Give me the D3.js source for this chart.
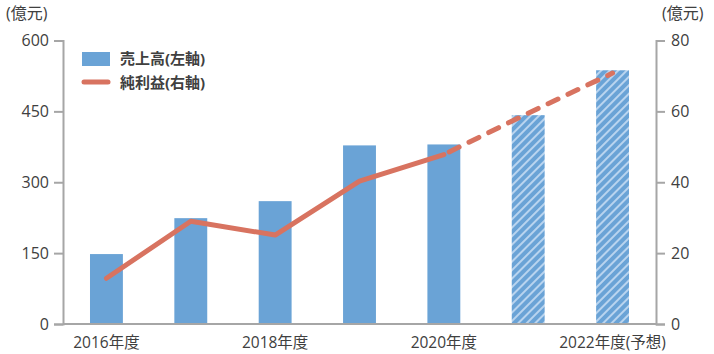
<!DOCTYPE html>
<html>
<head>
<meta charset="utf-8">
<script src="https://cdn.jsdelivr.net/npm/d3@7"></script>
<style>
  body { margin: 0; background: #fff; }
  text { font-family: "Open Sans", "Noto Sans CJK JP", sans-serif; fill: #404040; }
</style>
</head>
<body>
<div id="chart"></div>
<script>
// data
const years = ["2016", "2017", "2018", "2019", "2020", "2021", "2022"];
const sales = [148, 224, 260, 378, 380, 442, 537];      // 売上高 (left axis)
const profit = [12.9, 29, 25.1, 40.3, 47.8, 59.5, 70.8]; // 純利益 (right axis)
const forecast = [false, false, false, false, false, true, true];
const xLabels = {"2016": "2016年度", "2018": "2018年度", "2020": "2020年度", "2022": "2022年度(予想)"};
const leftTicks = [0, 150, 300, 450, 600];
const rightTicks = [0, 20, 40, 60, 80];

const width = 714, height = 354;
const margin = { top: 40.5, right: 58, bottom: 30, left: 63 };
const barColor = "#6aa3d6";
const lineColor = "#d87360";
const axisColor = "#a6a6a6";

const svg = d3.select("#chart").append("svg")
    .attr("width", width)
    .attr("height", height);

// hatch pattern for forecast bars
const defs = svg.append("defs");
const pat = defs.append("pattern")
    .attr("id", "hatch")
    .attr("patternUnits", "userSpaceOnUse")
    .attr("width", 6)
    .attr("height", 6)
    .attr("patternTransform", "rotate(45)");
pat.append("rect").attr("width", 6).attr("height", 6).attr("fill", barColor);
pat.append("rect").attr("x", 0).attr("width", 2).attr("height", 6).attr("fill", "#b9d4ef");

const x = d3.scaleBand()
    .domain(years)
    .range([margin.left, width - margin.right])
    .paddingInner(0.61)
    .paddingOuter(0.32);
const yL = d3.scaleLinear().domain([0, 600]).range([height - margin.bottom, margin.top]);
const yR = d3.scaleLinear().domain([0, 80]).range([height - margin.bottom, margin.top]);

// bars
svg.append("g").selectAll("rect")
    .data(years)
    .join("rect")
    .attr("x", d => x(d))
    .attr("width", x.bandwidth())
    .attr("y", (d, i) => yL(sales[i]))
    .attr("height", (d, i) => yL(0) - yL(sales[i]))
    .attr("fill", (d, i) => forecast[i] ? "url(#hatch)" : barColor);

// axes
const leftAxis = svg.append("g")
    .attr("transform", `translate(${margin.left},0)`)
    .call(d3.axisLeft(yL).tickValues(leftTicks).tickSize(9).tickPadding(5));
const rightAxis = svg.append("g")
    .attr("transform", `translate(${width - margin.right},0)`)
    .call(d3.axisRight(yR).tickValues(rightTicks).tickSize(9).tickPadding(6));
[leftAxis, rightAxis].forEach(g => {
    g.select(".domain").attr("stroke", axisColor).attr("stroke-width", 2);
    g.selectAll(".tick line").attr("stroke", axisColor).attr("stroke-width", 2);
    g.selectAll(".tick text")
        .attr("font-size", "16px")
        .attr("font-family", "'Open Sans', 'Noto Sans CJK JP', sans-serif")
        .attr("fill", "#404040");
});

// baseline
svg.append("line")
    .attr("x1", margin.left)
    .attr("x2", width - margin.right)
    .attr("y1", yL(0))
    .attr("y2", yL(0))
    .attr("stroke", axisColor)
    .attr("stroke-width", 2);

// x labels
svg.append("g").selectAll("text")
    .data(years.filter(d => xLabels[d]))
    .join("text")
    .attr("x", d => x(d) + x.bandwidth() / 2)
    .attr("y", 348)
    .attr("text-anchor", "middle")
    .attr("font-size", "15.5px")
    .text(d => xLabels[d]);

// profit line: solid for actual, dashed for forecast
const pts = years.map((d, i) => [x(d) + x.bandwidth() / 2, yR(profit[i])]);
const line = d3.line();
const lastActual = forecast.indexOf(true) - 1;
svg.append("path")
    .attr("d", line(pts.slice(0, lastActual + 1)))
    .attr("fill", "none")
    .attr("stroke", lineColor)
    .attr("stroke-width", 5)
    .attr("stroke-linejoin", "round")
    .attr("stroke-linecap", "round");
svg.append("path")
    .attr("d", line(pts.slice(lastActual)))
    .attr("fill", "none")
    .attr("stroke", lineColor)
    .attr("stroke-width", 5)
    .attr("stroke-dasharray", "11,11")
    .attr("stroke-dashoffset", -6)
    .attr("stroke-linecap", "round");

// unit labels
svg.append("text").attr("x", 6).attr("y", 19).attr("font-size", "16px").text("(億元)");
svg.append("text").attr("x", 662).attr("y", 19).attr("font-size", "16px").text("(億元)");

// legend
const legend = svg.append("g").attr("transform", "translate(82,0)");
legend.append("rect")
    .attr("x", 0).attr("y", 52)
    .attr("width", 28).attr("height", 14)
    .attr("fill", barColor);
legend.append("line")
    .attr("x1", 2).attr("x2", 26)
    .attr("y1", 82).attr("y2", 82)
    .attr("stroke", lineColor)
    .attr("stroke-width", 5)
    .attr("stroke-linecap", "round");
legend.selectAll("text.lg")
    .data(["売上高(左軸)", "純利益(右軸)"])
    .join("text")
    .attr("class", "lg")
    .attr("x", 38)
    .attr("y", (d, i) => 59 + i * 24)
    .attr("dy", "0.35em")
    .attr("font-size", "15px")
    .attr("font-weight", "bold")
    .attr("fill", "#262626")
    .text(d => d);
</script>
</body>
</html>
